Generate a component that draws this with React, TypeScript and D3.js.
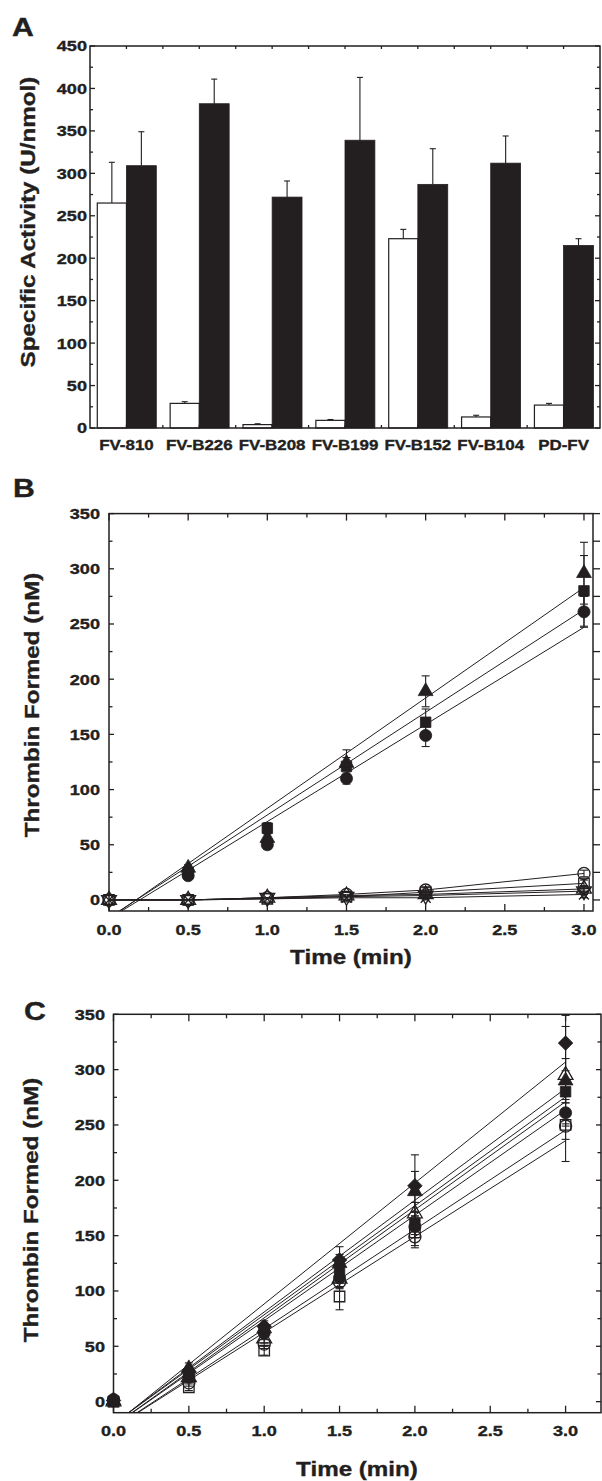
import React from "react";
import * as d3 from "d3";

// ---------- Panel A data ----------
const categories = ["FV-810", "FV-B226", "FV-B208", "FV-B199", "FV-B152", "FV-B104", "PD-FV"];
const nonActivated = [265, 29, 4, 9, 223, 13, 27];
const nonActivatedErr = [48, 2, 1, 1, 11, 2, 2];
const activated = [309, 382, 272, 339, 287, 312, 215];
const activatedErr = [40, 29, 19, 74, 42, 32, 8];
const aYTickValues = [0, 50, 100, 150, 200, 250, 300, 350, 400, 450];

// ---------- Panel B data ----------
const bTimes = [0.5, 1, 1.5, 2, 3];
const bTriangle = [29, 56, 124, 189, 296];
const bTriangleErr = [3, 4, 12, 14, 28];
const bSquare = [25, 65, 121, 161, 280];
const bSquareErr = [2, 5, 8, 12, 32];
const bCircle = [22, 50, 110, 149, 261];
const bCircleErr = [3, 4, 5, 10, 14];
const bFitSlope = [100, 93, 88];
const bFitIntercept = [-17, -16, -17];

const bOpenTimes = [0, 0.5, 1, 1.5, 2, 3];
const bOpenCircle = [0, 0, 2, 5, 9, 24];
const bOpenSquare = [0, 0, 1, 3, 7, 15];
const bOpenTriUp = [0, 0, 2, 4, 5, 10];
const bOpenTriDown = [0, 0, 2, 3, 4, 8];
const bOpenCross = [0, 0, 1, 2, 2, 5];
const bOpenErr = [1, 1, 1, 1, 2, 3];

// ---------- Panel C data ----------
const cTimes = [0, 0.5, 1, 1.5, 2, 3];
const cDiamond = [1, 27, 68, 128, 195, 324];
const cDiamondErr = [3, 4, 5, 12, 28, 25];
const cTriangle = [1, 30, 66, 125, 190, 290];
const cTriangleErr = [2, 5, 5, 8, 18, 20];
const cOpenTriangle = [0, 22, 57, 111, 170, 295];
const cOpenTriangleErr = [2, 3, 4, 8, 10, 44];
const cSquare = [0, 25, 65, 120, 161, 280];
const cSquareErr = [2, 3, 4, 8, 10, 10];
const cCircle = [2, 22, 62, 112, 158, 261];
const cCircleErr = [2, 3, 4, 8, 10, 12];
const cOpenSquare = [0, 13, 46, 95, 153, 250];
const cOpenSquareErr = [2, 3, 4, 12, 12, 33];
const cOpenCircle = [1, 17, 52, 108, 149, 249];
const cOpenCircleErr = [2, 3, 4, 6, 10, 12];
const cFitSlope = [109.3, 101, 98.5, 97.7, 95.2, 89.8, 86.6];
const cFitIntercept = [-21, -20, -20, -22, -22, -24, -24];

const timeTicks = [0, 0.5, 1, 1.5, 2, 2.5, 3];
const timeMinor = [0.25, 0.75, 1.25, 1.75, 2.25, 2.75];
const thrTicks = [0, 50, 100, 150, 200, 250, 300, 350];
const thrMinor = [25, 75, 125, 175, 225, 275, 325];

const FONT = "'Liberation Sans', Arial, Helvetica, sans-serif";
const SX = 1.21;
const INK = "#231f20";

function Txt(props: { x: number; y: number; size: number; anchor?: string; rotate?: number; children: any }) {
  const { x, y, size, anchor = "middle", rotate = 0, children } = props;
  const t = `translate(${x},${y})` + (rotate ? ` rotate(${rotate})` : "") + ` scale(${SX},1)`;
  return (
    <text transform={t} fontSize={size} fontWeight="bold" fontFamily={FONT} textAnchor={anchor} fill={INK} stroke={INK} strokeWidth={0.35}>
      {children}
    </text>
  );
}

type Mk = "triUp" | "triDown" | "square" | "circle" | "diamond" | "cross";
function markerPath(kind: Mk): string {
  switch (kind) {
    case "triUp":
    case "triDown":
      return d3.symbol().type(d3.symbolTriangle).size(95)() as string;
    case "square":
      return d3.symbol().type(d3.symbolSquare).size(110)() as string;
    case "circle":
      return d3.symbol().type(d3.symbolCircle).size(115)() as string;
    case "diamond":
      return d3.symbol().type(d3.symbolSquare).size(105)() as string;
    case "cross":
      return d3.symbol().type(d3.symbolCross).size(0)() as string;
  }
}
function Marker(props: { x: number; y: number; kind: Mk; filled: boolean }) {
  const { x, y, kind, filled } = props;
  let rot = 0;
  if (kind === "triDown") rot = 180;
  if (kind === "diamond") rot = 45;
  const tr = `translate(${x},${y}) rotate(${rot})`;
  if (kind === "cross") {
    const p = d3.path();
    p.moveTo(-5, -5); p.lineTo(5, 5); p.moveTo(-5, 5); p.lineTo(5, -5);
    return <path transform={tr} d={p.toString()} stroke={INK} strokeWidth={1.3} fill="none" />;
  }
  return (
    <path
      transform={tr}
      d={markerPath(kind)}
      fill={filled ? INK : "none"}
      stroke={INK}
      strokeWidth={filled ? 0.8 : 1.3}
    />
  );
}

function ErrBar(props: { x: number; y1: number; y2: number; cap: number; both: boolean }) {
  const { x, y1, y2, cap, both } = props;
  return (
    <g stroke={INK} strokeWidth={1.1}>
      <line x1={x} x2={x} y1={y1} y2={y2} />
      <line x1={x - cap / 2} x2={x + cap / 2} y1={y2} y2={y2} />
      {both ? <line x1={x - cap / 2} x2={x + cap / 2} y1={y1} y2={y1} /> : null}
    </g>
  );
}

type Series = { vals: number[]; err: number[]; kind: Mk; filled: boolean };

function LinePanel(props: {
  id: string;
  x: d3.ScaleLinear<number, number>;
  y: d3.ScaleLinear<number, number>;
  letter: string;
  letterX: number;
  letterY: number;
  titleX: number;
  titleY: number;
  yLabelRight: number;
  xLabelBase: number;
  xTitleX: number;
  xTitleBase: number;
  rightTicksOut: boolean;
  fits: { m: number; b: number }[];
  polylines: { times: number[]; vals: number[] }[];
  series: { times: number[]; s: Series }[];
}) {
  const { id, x, y } = props;
  const [x0, x1] = x.range();
  const [yb, yt] = y.range();
  const yMin = y.domain()[0];
  const line = d3.line<[number, number]>().x((d) => x(d[0])).y((d) => y(d[1]));
  const tMaj = 7, tMin = 4, yMaj = 5, yMin2 = 3.5;
  return (
    <g>
      <defs>
        <clipPath id={id}>
          <rect x={x0} y={yt} width={x1 - x0} height={yb - yt} />
        </clipPath>
      </defs>
      <g clipPath={`url(#${id})`} fill="none" stroke={INK} strokeWidth={1}>
        {props.fits.map((f, i) => {
          const xs = (yMin - f.b) / f.m;
          return <path key={i} d={line([[xs, yMin], [3, f.m * 3 + f.b]]) as string} />;
        })}
        {props.polylines.map((p, i) => (
          <path key={"p" + i} d={line(p.times.map((t, j) => [t, p.vals[j]] as [number, number])) as string} />
        ))}
      </g>
      {props.series.map((s, i) =>
        s.times.map((t, j) =>
          s.s.err[j] > 1.5 ? (
            <ErrBar key={`e${i}-${j}`} x={x(t)} y1={y(s.s.vals[j] - s.s.err[j])} y2={y(s.s.vals[j] + s.s.err[j])} cap={8} both={true} />
          ) : null
        )
      )}
      {props.series.map((s, i) =>
        s.times.map((t, j) => <Marker key={`m${i}-${j}`} x={x(t)} y={y(s.s.vals[j])} kind={s.s.kind} filled={s.s.filled} />)
      )}
      <rect x={x0} y={yt} width={x1 - x0} height={yb - yt} fill="none" stroke={INK} strokeWidth={1.5} />
      <g stroke={INK} strokeWidth={1.3}>
        {timeTicks.map((t) => (
          <g key={"xt" + t}>
            <line x1={x(t)} x2={x(t)} y1={yb} y2={yb - tMaj} />
            <line x1={x(t)} x2={x(t)} y1={yt} y2={yt + tMaj} />
          </g>
        ))}
        {timeMinor.map((t) => (
          <g key={"xm" + t}>
            <line x1={x(t)} x2={x(t)} y1={yb} y2={yb - tMin} />
            <line x1={x(t)} x2={x(t)} y1={yt} y2={yt + tMin} />
          </g>
        ))}
        {thrTicks.map((v) => (
          <g key={"yt" + v}>
            <line x1={x0} x2={x0 + yMaj} y1={y(v)} y2={y(v)} />
            <line x1={x1} x2={props.rightTicksOut ? x1 + 7 : x1 - yMaj} y1={y(v)} y2={y(v)} />
          </g>
        ))}
        {thrMinor.map((v) => (
          <g key={"ym" + v}>
            <line x1={x0} x2={x0 + yMin2} y1={y(v)} y2={y(v)} />
            <line x1={x1} x2={props.rightTicksOut ? x1 + 7 : x1 - yMin2} y1={y(v)} y2={y(v)} />
          </g>
        ))}
      </g>
      {thrTicks.map((v) => (
        <Txt key={"yl" + v} x={props.yLabelRight} y={y(v) + 5.4} size={15} anchor="end">
          {String(v)}
        </Txt>
      ))}
      {timeTicks.map((t) => (
        <Txt key={"xl" + t} x={x(t)} y={props.xLabelBase} size={15}>
          {d3.format(".1f")(t)}
        </Txt>
      ))}
      <Txt x={props.xTitleX} y={props.xTitleBase} size={20}>Time (min)</Txt>
      <Txt x={props.titleX} y={props.titleY} size={20} rotate={-90}>Thrombin Formed (nM)</Txt>
      <Txt x={props.letterX} y={props.letterY} size={25} anchor="start">{props.letter}</Txt>
    </g>
  );
}

export default function App() {
  // ----- Panel A -----
  const aX = d3.scaleBand<string>().domain(categories).range([90, 600]).paddingInner(0).paddingOuter(0);
  const bw = aX.bandwidth();
  const aY = d3.scaleLinear().domain([0, 450]).range([428, 46]);
  const aMinor = d3.range(25, 450, 50);
  const aXTicks = d3.range(1, categories.length * 2).map((k) => 90 + (k * bw) / 2);
  const wW = bw * 0.4;
  const bW = bw * 0.41;

  // ----- Panel B -----
  const bX = d3.scaleLinear().domain([0, 3.057]).range([109, 593]);
  const bY = d3.scaleLinear().domain([-10, 350]).range([911, 513.6]);
  const bSeries = [
    { times: bOpenTimes, s: { vals: bOpenCircle, err: bOpenErr, kind: "circle" as Mk, filled: false } },
    { times: bOpenTimes, s: { vals: bOpenSquare, err: bOpenErr, kind: "square" as Mk, filled: false } },
    { times: bOpenTimes, s: { vals: bOpenTriUp, err: bOpenErr, kind: "triUp" as Mk, filled: false } },
    { times: bOpenTimes, s: { vals: bOpenTriDown, err: bOpenErr, kind: "triDown" as Mk, filled: false } },
    { times: bOpenTimes, s: { vals: bOpenCross, err: bOpenErr, kind: "cross" as Mk, filled: false } },
    { times: bTimes, s: { vals: bCircle, err: bCircleErr, kind: "circle" as Mk, filled: true } },
    { times: bTimes, s: { vals: bSquare, err: bSquareErr, kind: "square" as Mk, filled: true } },
    { times: bTimes, s: { vals: bTriangle, err: bTriangleErr, kind: "triUp" as Mk, filled: true } },
  ];
  const bFits = bFitSlope.map((m, i) => ({ m, b: bFitIntercept[i] }));
  const bPolys = [bOpenCircle, bOpenSquare, bOpenTriUp, bOpenTriDown, bOpenCross].map((v) => ({ times: bOpenTimes, vals: v }));

  // ----- Panel C -----
  const cX = d3.scaleLinear().domain([0, 3.235]).range([113.5, 601]);
  const cY = d3.scaleLinear().domain([-10, 350]).range([1412.7, 1014.3]);
  const cSeries = [
    { times: cTimes, s: { vals: cOpenCircle, err: cOpenCircleErr, kind: "circle" as Mk, filled: false } },
    { times: cTimes, s: { vals: cOpenSquare, err: cOpenSquareErr, kind: "square" as Mk, filled: false } },
    { times: cTimes, s: { vals: cOpenTriangle, err: cOpenTriangleErr, kind: "triUp" as Mk, filled: false } },
    { times: cTimes, s: { vals: cCircle, err: cCircleErr, kind: "circle" as Mk, filled: true } },
    { times: cTimes, s: { vals: cSquare, err: cSquareErr, kind: "square" as Mk, filled: true } },
    { times: cTimes, s: { vals: cTriangle, err: cTriangleErr, kind: "triUp" as Mk, filled: true } },
    { times: cTimes, s: { vals: cDiamond, err: cDiamondErr, kind: "diamond" as Mk, filled: true } },
  ];
  const cFits = cFitSlope.map((m, i) => ({ m, b: cFitIntercept[i] }));

  return (
    <svg width={602} height={1481} style={{ position: "absolute", left: 0, top: 0, background: "#fff" }}>
      <rect x={0} y={0} width={602} height={1481} fill="#fff" />
      {/* ===== Panel A ===== */}
      <g>
        {categories.map((c, i) => {
          const cx = (aX(c) as number) + bw / 2;
          return (
            <g key={c}>
              <rect x={cx - wW} y={aY(nonActivated[i])} width={wW} height={aY(0) - aY(nonActivated[i])} fill="#fff" stroke={INK} strokeWidth={1.2} />
              <rect x={cx} y={aY(activated[i])} width={bW} height={aY(0) - aY(activated[i])} fill={INK} stroke={INK} strokeWidth={0.8} />
              <ErrBar x={cx - wW / 2} y1={aY(nonActivated[i])} y2={aY(nonActivated[i] + nonActivatedErr[i])} cap={6} both={false} />
              <ErrBar x={cx + bW / 2} y1={aY(activated[i])} y2={aY(activated[i] + activatedErr[i])} cap={6} both={false} />
              <Txt x={cx} y={450} size={14}>{c}</Txt>
            </g>
          );
        })}
        <rect x={90} y={aY(450)} width={510} height={aY(0) - aY(450)} fill="none" stroke={INK} strokeWidth={1.5} />
        <g stroke={INK} strokeWidth={1.3}>
          {aYTickValues.map((v) => (
            <g key={"ay" + v}>
              <line x1={90} x2={95} y1={aY(v)} y2={aY(v)} />
              <line x1={600} x2={595} y1={aY(v)} y2={aY(v)} />
            </g>
          ))}
          {aMinor.map((v) => (
            <g key={"am" + v}>
              <line x1={90} x2={93} y1={aY(v)} y2={aY(v)} />
              <line x1={600} x2={597} y1={aY(v)} y2={aY(v)} />
            </g>
          ))}
          {aXTicks.map((px, k) => (
            <g key={"ax" + k}>
              <line x1={px} x2={px} y1={aY(450)} y2={aY(450) + 3} />
              <line x1={px} x2={px} y1={aY(0)} y2={aY(0) - 3} />
            </g>
          ))}
        </g>
        {aYTickValues.map((v) => (
          <Txt key={"ayl" + v} x={87} y={aY(v) + 5.4} size={15} anchor="end">{String(v)}</Txt>
        ))}
        <Txt x={35} y={222} size={20} rotate={-90}>Specific Activity (U/nmol)</Txt>
        <Txt x={12} y={36} size={25} anchor="start">A</Txt>
      </g>

      {/* ===== Panel B ===== */}
      <LinePanel
        id="clipB"
        x={bX}
        y={bY}
        letter="B"
        letterX={13}
        letterY={497}
        titleX={39}
        titleY={705}
        yLabelRight={100}
        xLabelBase={935}
        xTitleX={351}
        xTitleBase={964}
        rightTicksOut={true}
        fits={bFits}
        polylines={bPolys}
        series={bSeries}
      />

      {/* ===== Panel C ===== */}
      <LinePanel
        id="clipC"
        x={cX}
        y={cY}
        letter="C"
        letterX={24}
        letterY={1020}
        titleX={38}
        titleY={1210}
        yLabelRight={105}
        xLabelBase={1436}
        xTitleX={357}
        xTitleBase={1476}
        rightTicksOut={false}
        fits={cFits}
        polylines={[]}
        series={cSeries}
      />
    </svg>
  );
}
